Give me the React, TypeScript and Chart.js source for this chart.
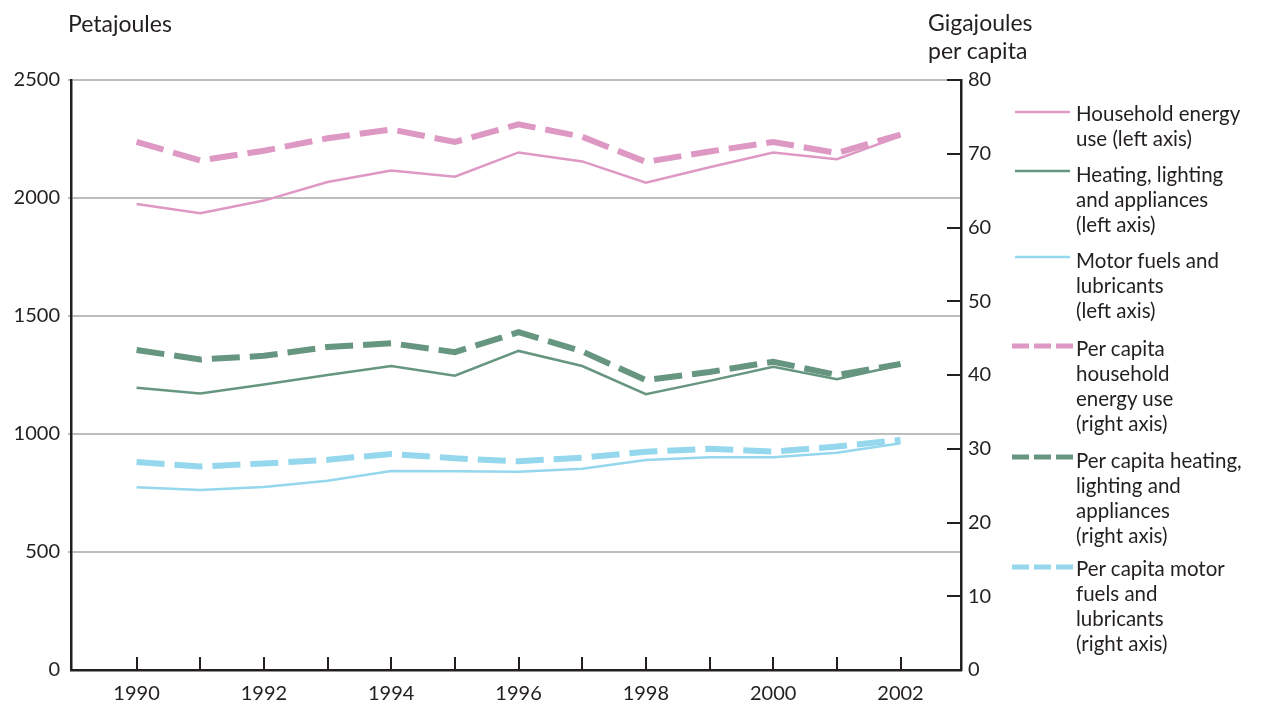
import React, { useEffect, useRef } from "react";
import { Chart, registerables } from "chart.js";

Chart.register(...registerables);

const years = [1990, 1991, 1992, 1993, 1994, 1995, 1996, 1997, 1998, 1999, 2000, 2001, 2002];
const householdUse = [1975, 1935, 1989, 2068, 2116, 2090, 2193, 2155, 2065, 2130, 2193, 2164, 2262];
const heatingUse = [1196, 1172, 1210, 1250, 1288, 1247, 1352, 1288, 1169, 1225, 1285, 1232, 1292];
const motorUse = [774, 763, 775, 802, 843, 842, 840, 853, 890, 901, 901, 921, 961];
const pcHousehold = [71.6, 69.1, 70.4, 72.1, 73.3, 71.6, 74.0, 72.3, 68.9, 70.3, 71.6, 70.1, 72.6];
const pcHeating = [43.4, 42.1, 42.6, 43.8, 44.3, 43.1, 45.8, 43.2, 39.3, 40.4, 41.8, 40.0, 41.5];
const pcMotor = [28.2, 27.6, 28.0, 28.5, 29.3, 28.7, 28.3, 28.8, 29.6, 30.0, 29.6, 30.3, 31.2];
const leftTicks = [0, 500, 1000, 1500, 2000, 2500];
const rightTicks = [0, 10, 20, 30, 40, 50, 60, 70, 80];
const labelYears = [1990, 1992, 1994, 1996, 1998, 2000, 2002];

const PINK = "#de98c4";
const GREEN = "#679680";
const BLUE = "#95d7ed";
const TEXT = "#231f20";
const FONT = "Lato, 'Noto Sans', sans-serif";

const legendItems = [
  { lines: ["Household energy", "use (left axis)"], color: PINK, dashed: false, top: 100.5, sy: 112 },
  { lines: ["Heating, lighting", "and appliances", "(left axis)"], color: GREEN, dashed: false, top: 161.5, sy: 171 },
  { lines: ["Motor fuels and", "lubricants", "(left axis)"], color: BLUE, dashed: false, top: 247.5, sy: 257 },
  { lines: ["Per capita", "household", "energy use", "(right axis)"], color: PINK, dashed: true, top: 335.5, sy: 346 },
  { lines: ["Per capita heating,", "lighting and", "appliances", "(right axis)"], color: GREEN, dashed: true, top: 447.5, sy: 457 },
  { lines: ["Per capita motor", "fuels and", "lubricants", "(right axis)"], color: BLUE, dashed: true, top: 556, sy: 567 },
];

const toPoints = (vals: number[]) => years.map((y, i) => ({ x: y, y: vals[i] }));

const tickPlugin = {
  id: "innerTicks",
  afterDraw(chart: any) {
    const ctx = chart.ctx;
    const xs = chart.scales.x;
    const yr = chart.scales.y1;
    const area = chart.chartArea;
    ctx.save();
    ctx.strokeStyle = TEXT;
    ctx.lineWidth = 2;
    ctx.beginPath();
    years.forEach((y) => {
      const px = Math.round(xs.getPixelForValue(y));
      ctx.moveTo(px, area.bottom);
      ctx.lineTo(px, area.bottom - 13);
    });
    rightTicks.forEach((v) => {
      if (v === 0) return;
      const py = Math.round(yr.getPixelForValue(v));
      ctx.moveTo(area.right - 14, py);
      ctx.lineTo(area.right, py);
    });
    ctx.stroke();
    ctx.restore();
  },
};

export default function App() {
  const ref = useRef<HTMLCanvasElement | null>(null);

  useEffect(() => {
    if (!ref.current) return;
    const solid = (label: string, vals: number[], color: string) => ({
      label,
      data: toPoints(vals),
      borderColor: color,
      backgroundColor: color,
      borderWidth: 2.5,
      pointRadius: 0,
      tension: 0,
      yAxisID: "y",
      order: 1,
    });
    const dashed = (label: string, vals: number[], color: string) => ({
      label,
      data: toPoints(vals),
      borderColor: color,
      backgroundColor: color,
      borderWidth: 6,
      borderDash: [28, 10],
      borderCapStyle: "butt",
      pointRadius: 0,
      tension: 0,
      yAxisID: "y1",
      order: 0,
    });
    const chart = new Chart(ref.current, {
      type: "line",
      data: {
        datasets: [
          solid("Household energy use (left axis)", householdUse, PINK),
          solid("Heating, lighting and appliances (left axis)", heatingUse, GREEN),
          solid("Motor fuels and lubricants (left axis)", motorUse, BLUE),
          dashed("Per capita household energy use (right axis)", pcHousehold, PINK),
          dashed("Per capita heating, lighting and appliances (right axis)", pcHeating, GREEN),
          dashed("Per capita motor fuels and lubricants (right axis)", pcMotor, BLUE),
        ] as any,
      },
      options: {
        animation: false,
        responsive: false,
        maintainAspectRatio: false,
        layout: { padding: { top: 80, left: 0, right: 0, bottom: 0 } },
        plugins: { legend: { display: false }, tooltip: { enabled: false } },
        scales: {
          x: {
            type: "linear",
            min: 1988.97,
            max: 2002.95,
            afterFit: (s: any) => { s.height = 34; },
            afterBuildTicks: (s: any) => { s.ticks = labelYears.map((v) => ({ value: v })); },
            ticks: {
              autoSkip: false,
              maxRotation: 0,
              includeBounds: false,
              padding: 4,
              color: TEXT,
              font: { family: FONT, size: 20 },
              callback: (v: any) => String(v),
            },
            grid: { display: false },
            border: { display: true, color: TEXT, width: 2.5 },
          },
          y: {
            position: "left",
            min: 0,
            max: 2500,
            afterFit: (s: any) => { s.width = 71; },
            afterBuildTicks: (s: any) => { s.ticks = leftTicks.map((v) => ({ value: v })); },
            ticks: { padding: 8, color: TEXT, font: { family: FONT, size: 20 }, callback: (v: any) => String(v) },
            grid: {
              color: (c: any) => (c.tick && c.tick.value === 0 ? "rgba(0,0,0,0)" : "#bdbdbd"),
              lineWidth: 2,
              tickLength: 3,
            },
            border: { display: true, color: TEXT, width: 2.5 },
          },
          y1: {
            position: "right",
            min: 0,
            max: 80,
            afterFit: (s: any) => { s.width = 1263 - 961; },
            afterBuildTicks: (s: any) => { s.ticks = rightTicks.map((v) => ({ value: v })); },
            ticks: { padding: 7, color: TEXT, font: { family: FONT, size: 20 }, callback: (v: any) => String(v) },
            grid: { drawOnChartArea: false, drawTicks: false },
            border: { display: true, color: TEXT, width: 2.5 },
          },
        } as any,
      },
      plugins: [tickPlugin],
    });
    return () => chart.destroy();
  }, []);

  const textStyle: React.CSSProperties = {
    position: "absolute",
    fontFamily: FONT,
    fontSize: 20.5,
    lineHeight: "25px",
    color: TEXT,
    whiteSpace: "nowrap",
  };

  return (
    <div style={{ position: "fixed", left: 0, top: 0, width: 1263, height: 704, background: "#fff" }}>
      <canvas ref={ref} width={1263} height={704} style={{ position: "absolute", left: 0, top: 0 }} />
      <div style={{ ...textStyle, fontSize: 23, lineHeight: "28px", left: 68, top: 8.5 }}>Petajoules</div>
      <div style={{ ...textStyle, fontSize: 23, left: 928, top: 8, lineHeight: "28px" }}>
        Gigajoules
        <br />
        per capita
      </div>
      <svg width={1263} height={704} style={{ position: "absolute", left: 0, top: 0, pointerEvents: "none" }}>
        {legendItems.map((it, i) =>
          it.dashed ? (
            <line key={i} x1={1012} x2={1073} y1={it.sy} y2={it.sy} stroke={it.color} strokeWidth={5} strokeDasharray="17 5" />
          ) : (
            <line key={i} x1={1015} x2={1070} y1={it.sy} y2={it.sy} stroke={it.color} strokeWidth={2.5} />
          )
        )}
      </svg>
      {legendItems.map((it, i) => (
        <div key={i} style={{ ...textStyle, left: 1076, top: it.top }}>
          {it.lines.map((l, j) => (
            <div key={j}>{l}</div>
          ))}
        </div>
      ))}
    </div>
  );
}
